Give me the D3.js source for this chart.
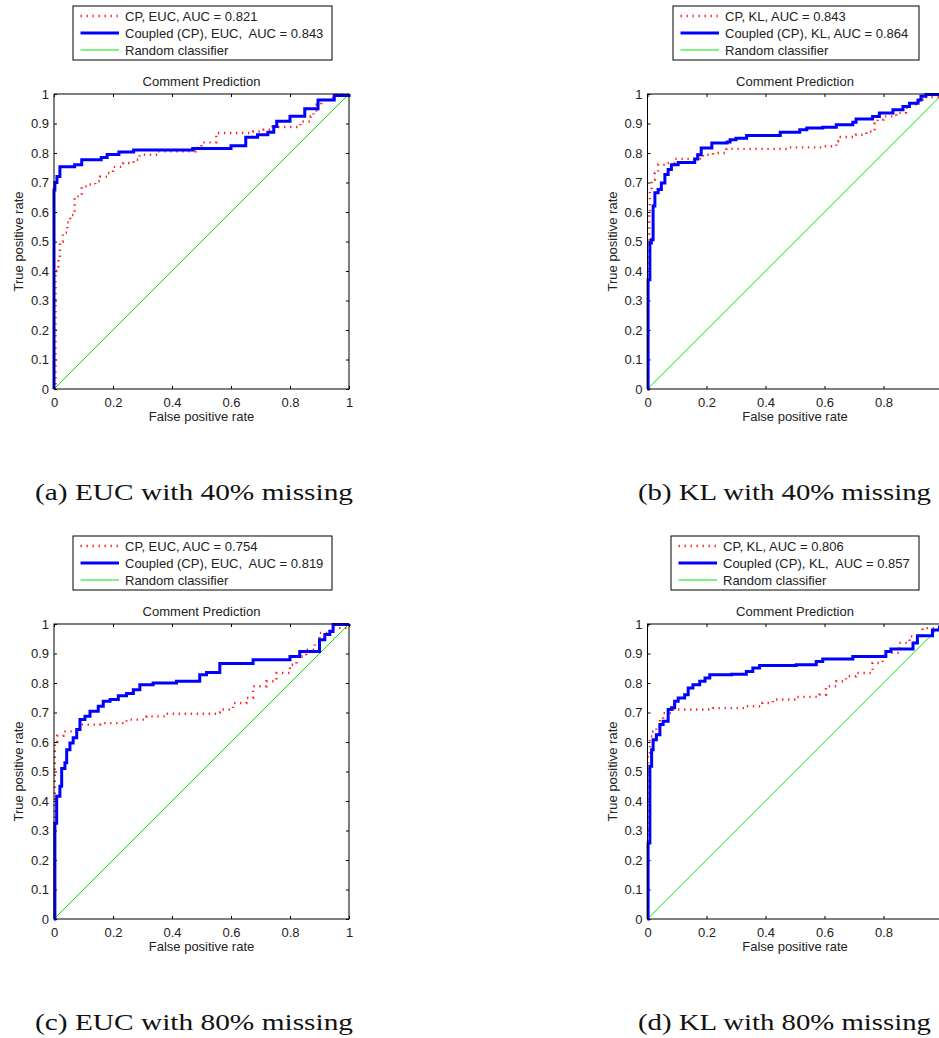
<!DOCTYPE html>
<html>
<head>
<meta charset="utf-8">
<script src="https://cdn.jsdelivr.net/npm/d3@7/dist/d3.min.js"></script>
<style>
  body { margin: 0; background: #fff; }
  svg { display: block; }
  .tick text { font-family: "Liberation Sans", Arial, sans-serif; font-size: 13px; fill: #222; }
  .lbl { font-family: "Liberation Sans", Arial, sans-serif; font-size: 13px; fill: #222; white-space: pre; }
  .cap { font-family: "Liberation Serif", "Times New Roman", serif; font-size: 23px; fill: #111; }
</style>
</head>
<body>
<script>
// tick values / labels
const fprTicks = [0, 0.2, 0.4, 0.6, 0.8, 1];
const fprLabels = ["0", "0.2", "0.4", "0.6", "0.8", "1"];
const tprTicks = [0, 0.1, 0.2, 0.3, 0.4, 0.5, 0.6, 0.7, 0.8, 0.9, 1];
const tprLabels = ["0", "0.1", "0.2", "0.3", "0.4", "0.5", "0.6", "0.7", "0.8", "0.9", "1"];

const randomLine = [[0, 0], [1, 1]];

// (a) EUC, 40% missing
const cpEuc40 = [[0,0],[0.005,0.2],[0.005,0.40],[0.01,0.40],[0.015,0.44],[0.02,0.50],[0.03,0.53],[0.045,0.565],
  [0.055,0.59],[0.07,0.653],[0.094,0.687],[0.116,0.693],[0.14,0.704],[0.156,0.72],[0.18,0.732],[0.2,0.753],
  [0.235,0.766],[0.27,0.777],[0.29,0.794],[0.35,0.806],[0.48,0.817],[0.5,0.836],[0.55,0.868],[0.675,0.873],
  [0.71,0.879],[0.74,0.888],[0.835,0.907],[0.87,0.924],[0.88,0.936],[0.89,0.964],[0.906,0.98],[0.946,0.998],[1,1]];
const coupledEuc40 = [[0,0],[0,0.675],[0.003,0.70],[0.01,0.72],[0.02,0.753],[0.07,0.76],[0.094,0.777],[0.16,0.785],
  [0.18,0.795],[0.22,0.803],[0.27,0.81],[0.47,0.815],[0.6,0.825],[0.65,0.853],[0.69,0.862],[0.725,0.87],
  [0.745,0.89],[0.755,0.908],[0.8,0.925],[0.85,0.95],[0.895,0.98],[0.95,0.995],[1,1]];

// (b) KL, 40% missing
const cpKl40 = [[0,0],[0.002,0.495],[0.006,0.597],[0.008,0.676],[0.014,0.71],[0.025,0.732],[0.036,0.76],[0.064,0.766],
  [0.092,0.78],[0.188,0.794],[0.222,0.8],[0.268,0.814],[0.48,0.819],[0.594,0.823],[0.64,0.84],[0.646,0.854],
  [0.707,0.862],[0.742,0.873],[0.77,0.9],[0.78,0.913],[0.8,0.924],[0.843,0.936],[0.876,0.953],[0.888,0.964],
  [0.92,0.98],[0.932,0.99],[0.99,0.993],[1,1]];
const coupledKl40 = [[0,0],[0.002,0.37],[0.008,0.495],[0.013,0.506],[0.019,0.62],[0.025,0.665],[0.036,0.676],
  [0.047,0.698],[0.059,0.727],[0.07,0.744],[0.081,0.76],[0.104,0.768],[0.16,0.78],[0.17,0.794],[0.182,0.817],
  [0.218,0.834],[0.27,0.837],[0.28,0.845],[0.3,0.85],[0.336,0.859],[0.45,0.87],[0.516,0.879],[0.54,0.885],
  [0.594,0.887],[0.64,0.896],[0.696,0.904],[0.707,0.915],[0.763,0.924],[0.786,0.936],[0.832,0.947],[0.866,0.958],
  [0.888,0.969],[0.917,0.98],[0.927,0.992],[0.944,0.998],[1,1]];

// (c) EUC, 80% missing
const cpEuc80 = [[0,0],[0.003,0.3],[0.003,0.6],[0.011,0.621],[0.032,0.636],[0.088,0.659],[0.156,0.664],[0.246,0.676],
  [0.314,0.687],[0.381,0.696],[0.55,0.7],[0.562,0.71],[0.607,0.732],[0.652,0.749],[0.675,0.789],[0.72,0.806],
  [0.754,0.834],[0.8,0.862],[0.822,0.89],[0.855,0.913],[0.884,0.936],[0.9,0.97],[0.935,0.986],[1,1]];
const coupledEuc80 = [[0,0],[0.003,0.325],[0.009,0.416],[0.02,0.45],[0.026,0.51],[0.037,0.53],[0.043,0.574],
  [0.054,0.597],[0.065,0.614],[0.077,0.642],[0.088,0.676],[0.105,0.687],[0.122,0.704],[0.15,0.721],[0.167,0.738],
  [0.19,0.744],[0.218,0.757],[0.246,0.764],[0.269,0.777],[0.291,0.794],[0.336,0.8],[0.415,0.806],[0.494,0.828],
  [0.517,0.836],[0.562,0.866],[0.675,0.879],[0.8,0.89],[0.833,0.907],[0.9,0.947],[0.918,0.964],[0.935,0.975],
  [0.946,0.998],[1,1]];

// (d) KL, 80% missing
const cpKl80 = [[0,0],[0.002,0.5],[0.002,0.563],[0.008,0.619],[0.019,0.636],[0.03,0.647],[0.042,0.676],[0.053,0.698],
  [0.087,0.71],[0.222,0.715],[0.335,0.721],[0.39,0.732],[0.425,0.744],[0.504,0.753],[0.583,0.76],[0.605,0.789],
  [0.64,0.806],[0.673,0.823],[0.707,0.834],[0.763,0.868],[0.797,0.902],[0.853,0.936],[0.888,0.958],[0.932,0.986],[1,1]];
const coupledKl80 = [[0,0],[0.002,0.258],[0.008,0.518],[0.014,0.574],[0.019,0.608],[0.03,0.625],[0.042,0.659],
  [0.053,0.67],[0.07,0.71],[0.081,0.716],[0.092,0.738],[0.104,0.749],[0.126,0.76],[0.138,0.783],[0.154,0.794],
  [0.177,0.806],[0.195,0.817],[0.211,0.828],[0.285,0.83],[0.335,0.839],[0.357,0.851],[0.38,0.859],[0.504,0.862],
  [0.572,0.873],[0.594,0.881],[0.696,0.89],[0.808,0.907],[0.825,0.915],[0.9,0.936],[0.915,0.96],[0.966,0.98],[0.99,0.99],[1,1]];

const legendA = ["CP, EUC, AUC = 0.821", "Coupled (CP), EUC,  AUC = 0.843", "Random classifier"];
const legendB = ["CP, KL, AUC = 0.843", "Coupled (CP), KL, AUC = 0.864", "Random classifier"];
const legendC = ["CP, EUC, AUC = 0.754", "Coupled (CP), EUC,  AUC = 0.819", "Random classifier"];
const legendD = ["CP, KL, AUC = 0.806", "Coupled (CP), KL,  AUC = 0.857", "Random classifier"];

const captions = ["(a) EUC with 40% missing", "(b) KL with 40% missing", "(c) EUC with 80% missing", "(d) KL with 80% missing"];

// layout
const W = 939, H = 1038, S = 295;
const panels = [
  { x: 54, y: 94, cp: cpEuc40, cpl: coupledEuc40, legend: legendA, lx: 73, lw: 259, cap: captions[0], cx: 35, cw: 318 },
  { x: 647.5, y: 94, cp: cpKl40, cpl: coupledKl40, legend: legendB, lx: 673, lw: 246, cap: captions[1], cx: 638, cw: 293 },
  { x: 54, y: 624, cp: cpEuc80, cpl: coupledEuc80, legend: legendC, lx: 73, lw: 259, cap: captions[2], cx: 35, cw: 318 },
  { x: 647.5, y: 624, cp: cpKl80, cpl: coupledKl80, legend: legendD, lx: 671, lw: 248, cap: captions[3], cx: 638, cw: 293 }
];

const svg = d3.select('body').append('svg')
  .attr('width', W)
  .attr('height', H);

const xScale = d3.scaleLinear().domain([0, 1]).range([0, S]);
const yScale = d3.scaleLinear().domain([0, 1]).range([S, 0]);

const line = d3.line()
  .x(d => xScale(d[0]))
  .y(d => yScale(d[1]))
  .curve(d3.curveStepAfter);
const straight = d3.line()
  .x(d => xScale(d[0]))
  .y(d => yScale(d[1]));

const styles = [
  { stroke: "#ff0000", width: 2.4, dash: "1.4,4.6", opacity: 0.85 },
  { stroke: "#0000ff", width: 3, dash: null, opacity: 1 },
  { stroke: "#00e600", width: 1, dash: null, opacity: 1 }
];

panels.forEach(p => {
  const g = svg.append('g').attr('transform', `translate(${p.x},${p.y})`);

  // axes (ticks inward on all four sides); labels that fall off the page are not drawn
  const fmtX = d => (p.x + xScale(d) + 4 > W) ? "" : fprLabels[fprTicks.indexOf(d)];
  const fmtY = d => tprLabels[tprTicks.indexOf(d)];
  g.append('g').attr('transform', `translate(0,${S})`)
    .call(d3.axisBottom(xScale).tickValues(fprTicks).tickFormat(fmtX).tickSize(-3).tickPadding(9));
  g.append('g')
    .call(d3.axisTop(xScale).tickValues(fprTicks).tickFormat("").tickSize(-3));
  g.append('g')
    .call(d3.axisLeft(yScale).tickValues(tprTicks).tickFormat(fmtY).tickSize(-3).tickPadding(5));
  g.append('g').attr('transform', `translate(${S},0)`)
    .call(d3.axisRight(yScale).tickValues(tprTicks).tickFormat("").tickSize(-3));
  g.selectAll('.domain').remove();
  g.selectAll('.tick line').attr('stroke', '#000');

  // curves
  g.append('path').datum(randomLine).attr('d', straight)
    .attr('fill', 'none').attr('stroke', styles[2].stroke).attr('stroke-width', styles[2].width);
  g.append('path').datum(p.cp).attr('d', line)
    .attr('fill', 'none').attr('stroke', styles[0].stroke).attr('stroke-width', styles[0].width)
    .attr('stroke-dasharray', styles[0].dash).attr('stroke-opacity', styles[0].opacity);
  g.append('path').datum(p.cpl).attr('d', line)
    .attr('fill', 'none').attr('stroke', styles[1].stroke).attr('stroke-width', styles[1].width)
    .attr('stroke-linejoin', 'miter');

  // box
  g.append('rect').attr('width', S).attr('height', S)
    .attr('fill', 'none').attr('stroke', '#000').attr('stroke-width', 1);

  // labels
  g.append('text').attr('class', 'lbl').attr('x', S / 2).attr('y', -8)
    .attr('text-anchor', 'middle').text('Comment Prediction');
  g.append('text').attr('class', 'lbl').attr('x', S / 2).attr('y', S + 31.5)
    .attr('text-anchor', 'middle').text('False positive rate');
  g.append('text').attr('class', 'lbl')
    .attr('transform', `translate(-31,${S / 2}) rotate(-90)`)
    .attr('text-anchor', 'middle').text('True positive rate');

  // legend
  const ly = p.y - 88;
  const lg = svg.append('g').attr('transform', `translate(${p.lx},${ly})`);
  lg.append('rect').attr('width', p.lw).attr('height', 54)
    .attr('fill', '#fff').attr('stroke', '#000').attr('stroke-width', 1);
  p.legend.forEach((t, i) => {
    const cy = 10 + i * 17;
    const st = styles[i];
    lg.append('line').attr('x1', 7.5).attr('x2', 46).attr('y1', cy).attr('y2', cy)
      .attr('stroke', st.stroke).attr('stroke-width', st.width)
      .attr('stroke-dasharray', st.dash).attr('stroke-opacity', st.opacity);
    lg.append('text').attr('class', 'lbl').attr('x', 52).attr('y', cy + 4.5)
      .attr('xml:space', 'preserve').text(t);
  });

  // caption
  svg.append('text').attr('class', 'cap')
    .attr('x', p.cx).attr('y', p.y + S + 111)
    .attr('textLength', p.cw).attr('lengthAdjust', 'spacingAndGlyphs')
    .text(p.cap);
});
</script>
</body>
</html>
